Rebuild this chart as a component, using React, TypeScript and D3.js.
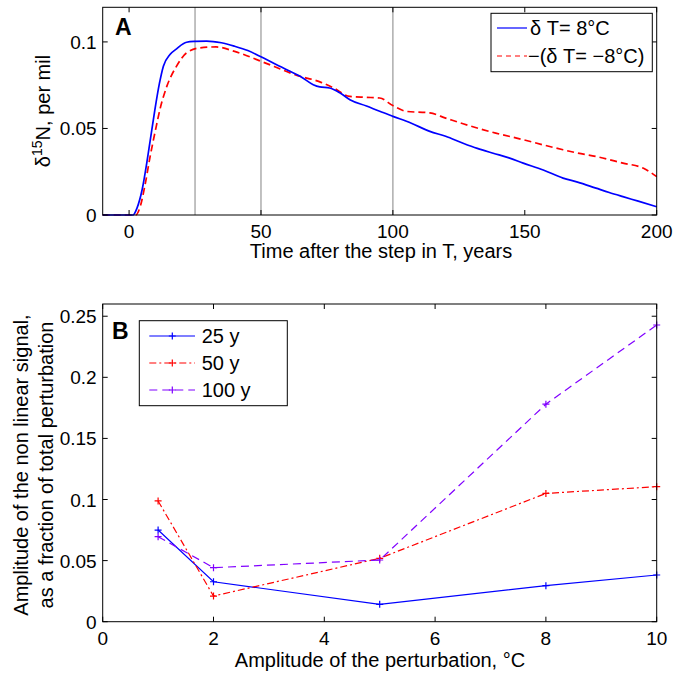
import React from 'react';
import * as d3 from 'd3';

// panel A: time after step (years) vs d15N (per mil)
const warmX = [-10, 0, 1.5, 3, 5, 6.7, 8, 9.8, 11.5, 13, 15.5, 18, 21.8, 25, 29.4, 35, 40, 45, 50, 55, 61, 65, 69.8, 72.3, 76, 80, 83.7, 90, 95, 100, 107, 114, 120, 126.6, 132, 138, 144, 149.4, 157, 164.5, 170, 177, 182, 187.2, 193, 200];
const warmY = [0, 0, 0, 0.004, 0.015, 0.03, 0.043, 0.061, 0.076, 0.086, 0.0927, 0.096, 0.0998, 0.1003, 0.1005, 0.0995, 0.0975, 0.095, 0.0914, 0.0875, 0.083, 0.08, 0.0753, 0.074, 0.0734, 0.0705, 0.0666, 0.063, 0.0599, 0.057, 0.053, 0.0483, 0.0455, 0.0415, 0.0385, 0.0357, 0.033, 0.03, 0.026, 0.0213, 0.019, 0.0155, 0.013, 0.0106, 0.008, 0.0048];
const coldX = [-10, 0, 2.5, 4.2, 6, 8, 10, 11.7, 14.3, 18, 21.8, 27, 33, 40, 50, 55, 61, 65, 69.8, 73, 77.4, 83.7, 90, 95, 100, 105, 114, 120, 126.6, 133, 139, 149.4, 157, 164.5, 170, 177, 187.2, 195, 200];
const coldY = [0, 0, 0, 0.0048, 0.017, 0.034, 0.049, 0.061, 0.0743, 0.086, 0.0937, 0.0966, 0.0971, 0.0945, 0.0888, 0.0858, 0.0821, 0.08, 0.0782, 0.0765, 0.0735, 0.0685, 0.068, 0.0676, 0.0632, 0.0599, 0.059, 0.056, 0.0527, 0.0498, 0.0473, 0.0435, 0.0405, 0.0377, 0.0358, 0.0338, 0.03, 0.027, 0.0222];
const markYears = [25, 50, 100];
const xTicksA = [0, 50, 100, 150, 200];
const yTicksA = [0, 0.05, 0.1];

// panel B: perturbation amplitude vs non linear fraction
const amplitudes = [1, 2, 5, 8, 10];
const y25 = [0.075, 0.0327, 0.0142, 0.0295, 0.0382];
const y50 = [0.0988, 0.021, 0.0519, 0.105, 0.1105];
const y100 = [0.0696, 0.0442, 0.0505, 0.178, 0.2428];
const xTicksB = [0, 2, 4, 6, 8, 10];
const yTicksB = [0, 0.05, 0.1, 0.15, 0.2, 0.25];

const font = "'Liberation Sans', Arial, Helvetica, sans-serif";
const fs = 20;
const tfs = 19;

const Frame = ({ x, y, xt, yt }: any) => {
  const [x0, x1] = x.range();
  const [y0, y1] = y.range();
  const tl = 5;
  return (
    <g>
      <rect x={x0} y={y1} width={x1 - x0} height={y0 - y1} fill="none" stroke="#000" strokeWidth={1} />
      {xt.map((t: number) => (
        <g key={'x' + t}>
          <line x1={x(t)} x2={x(t)} y1={y0} y2={y0 - tl} stroke="#000" />
          <line x1={x(t)} x2={x(t)} y1={y1} y2={y1 + tl} stroke="#000" />
          <text x={x(t)} y={y0 + 23} textAnchor="middle" fontSize={tfs}>{t}</text>
        </g>
      ))}
      {yt.map((t: number) => (
        <g key={'y' + t}>
          <line x1={x0} x2={x0 + tl} y1={y(t)} y2={y(t)} stroke="#000" />
          <line x1={x1} x2={x1 - tl} y1={y(t)} y2={y(t)} stroke="#000" />
          <text x={x0 - 6} y={y(t) + 7} textAnchor="end" fontSize={tfs}>{String(t)}</text>
        </g>
      ))}
    </g>
  );
};

const Plus = ({ cx, cy, color }: any) => (
  <path d={`M${cx - 3.5},${cy}H${cx + 3.5}M${cx},${cy - 3.5}V${cy + 3.5}`} stroke={color} strokeWidth={1.2} />
);

export default function App() {
  // panel A scales
  const xA = d3.scaleLinear().domain([-10, 200]).range([102.7, 656.7]);
  const yA = d3.scaleLinear().domain([0, 0.12]).range([215, 7.3]);
  const lineA = d3.line<[number, number]>().x(d => xA(d[0])).y(d => yA(d[1])).curve(d3.curveMonotoneX);
  const warm = warmX.map((v, i) => [v, warmY[i]] as [number, number]);
  const cold = coldX.map((v, i) => [v, coldY[i]] as [number, number]);

  // panel B scales
  const xB = d3.scaleLinear().domain([0, 10]).range([102.7, 656.7]);
  const yB = d3.scaleLinear().domain([0, 0.26]).range([621.7, 304]);
  const lineB = d3.line<number>().x((_, i) => xB(amplitudes[i])).y(d => yB(d));
  const seriesB = [
    { name: '25 y', vals: y25, color: '#0000ff', dash: 'none' },
    { name: '50 y', vals: y50, color: '#ff0000', dash: '7,3,2,3' },
    { name: '100 y', vals: y100, color: '#8000ff', dash: '8,5' },
  ];

  return (
    <svg width={675} height={674} style={{ position: 'absolute', left: 0, top: 0, background: '#fff' }} fontFamily={font}>
      {/* panel A */}
      {markYears.map(t => (
        <line key={t} x1={xA(t)} x2={xA(t)} y1={yA(0)} y2={yA(0.12)} stroke="#a0a0a0" strokeWidth={1.3} />
      ))}
      <path d={lineA(cold) || ''} fill="none" stroke="#ff0000" strokeWidth={1.7} strokeDasharray="7,4" />
      <path d={lineA(warm) || ''} fill="none" stroke="#0000ff" strokeWidth={1.7} />
      <Frame x={xA} y={yA} xt={xTicksA} yt={yTicksA} />
      <text x={115} y={35} fontSize={23} fontWeight="bold">A</text>
      <g>
        <rect x={491} y={13.3} width={161.3} height={58.4} fill="#fff" stroke="#000" />
        <line x1={497} x2={527} y1={28} y2={28} stroke="#0000ff" strokeWidth={1.2} />
        <text x={530} y={35} fontSize={fs}>δ T= 8°C</text>
        <line x1={497} x2={527} y1={56} y2={56} stroke="#ff0000" strokeWidth={1.2} strokeDasharray="5,4" />
        <text x={528} y={63} fontSize={fs}>−(δ T= −8°C)</text>
      </g>
      <text x={381} y={258} textAnchor="middle" fontSize={fs}>Time after the step in T, years</text>
      <text transform="translate(50,111) rotate(-90)" textAnchor="middle" fontSize={fs}>
        δ<tspan dy={-8} fontSize={14}>15</tspan><tspan dy={8}>N, per mil</tspan>
      </text>

      {/* panel B */}
      {seriesB.map(s => (
        <g key={s.name}>
          <path d={lineB(s.vals) || ''} fill="none" stroke={s.color} strokeWidth={1.2} strokeDasharray={s.dash} />
          {s.vals.map((v, i) => <Plus key={i} cx={xB(amplitudes[i])} cy={yB(v)} color={s.color} />)}
        </g>
      ))}
      <Frame x={xB} y={yB} xt={xTicksB} yt={yTicksB} />
      <text x={112} y={339} fontSize={23} fontWeight="bold">B</text>
      <g>
        <rect x={139.3} y={320.7} width={148} height={85} fill="#fff" stroke="#000" />
        {seriesB.map((s, i) => {
          const ly = 336 + i * 27;
          return (
            <g key={s.name}>
              <line x1={149.3} x2={195} y1={ly} y2={ly} stroke={s.color} strokeWidth={1.2} strokeDasharray={s.dash} />
              <Plus cx={172.3} cy={ly} color={s.color} />
              <text x={201.7} y={ly + 7} fontSize={fs}>{s.name}</text>
            </g>
          );
        })}
      </g>
      <text x={380} y={667} textAnchor="middle" fontSize={fs}>Amplitude of the perturbation, °C</text>
      <text transform="translate(28,465) rotate(-90)" textAnchor="middle" fontSize={fs}>Amplitude of the non linear signal,</text>
      <text transform="translate(53,465) rotate(-90)" textAnchor="middle" fontSize={fs}>as a fraction of total perturbation</text>
    </svg>
  );
}
